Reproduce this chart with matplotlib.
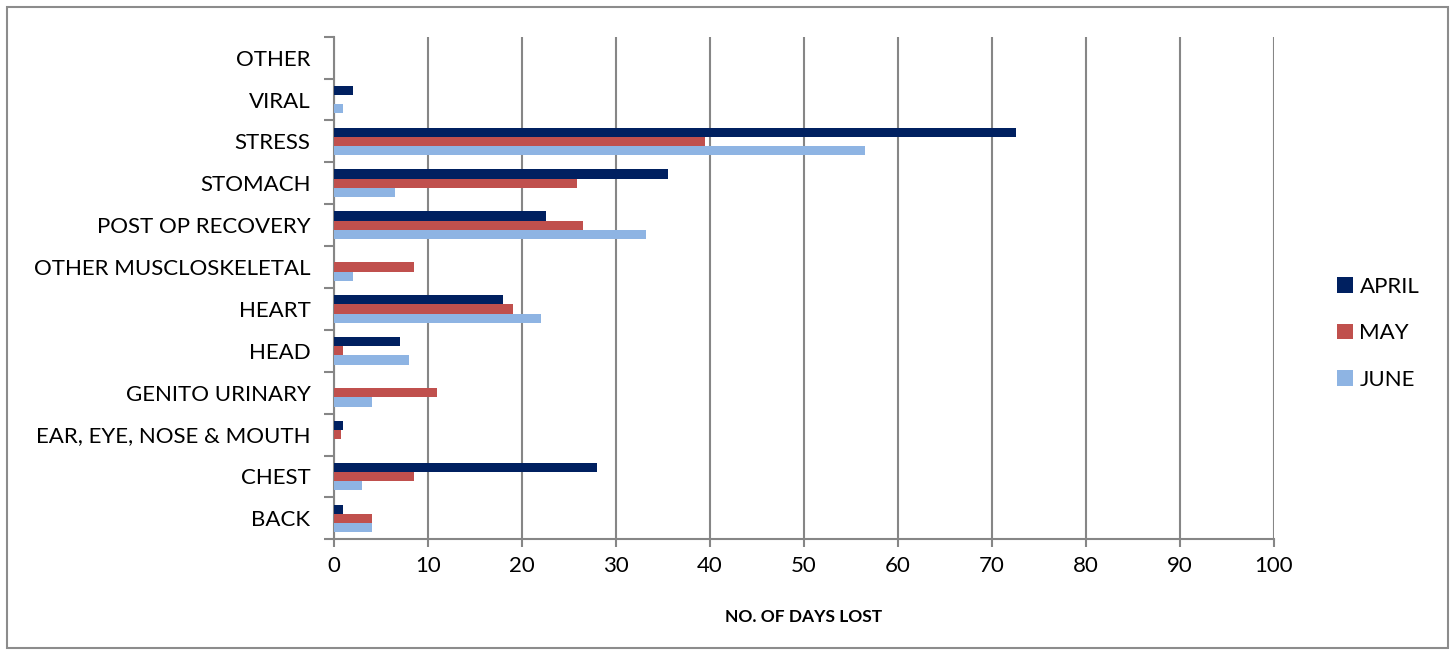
import matplotlib.pyplot as plt
import numpy as np
from matplotlib.patches import Rectangle

categories = ['BACK', 'CHEST', 'EAR, EYE, NOSE & MOUTH', 'GENITO URINARY', 'HEAD',
              'HEART', 'OTHER MUSCLOSKELETAL', 'POST OP RECOVERY', 'STOMACH',
              'STRESS', 'VIRAL', 'OTHER']
april = [1, 28, 1, 0, 7, 18, 0, 22.5, 35.5, 72.5, 2, 0]
may = [4, 8.5, 0.75, 11, 1, 19, 8.5, 26.5, 25.8, 39.5, 0, 0]
june = [4, 3, 0, 4, 8, 22, 2, 33.2, 6.5, 56.5, 1, 0]
x_ticks = list(range(0, 101, 10))

plt.rcParams['font.family'] = ['Lato', 'DejaVu Sans']

fig = plt.figure(figsize=(14.56, 6.52), dpi=100)
fig.patches.append(Rectangle((7 / 1456, 4 / 652), 1441 / 1456, 641 / 652,
                             transform=fig.transFigure, fill=False,
                             edgecolor='#8c8c8c', linewidth=1.5))
ax = fig.add_axes([0.2294, 0.1729, 0.6456, 0.7708])

y = np.arange(len(categories))
h = 0.22
ax.barh(y + h, april, height=h, color='#002060', label='APRIL', zorder=3)
ax.barh(y, may, height=h, color='#C0504D', label='MAY', zorder=3)
ax.barh(y - h, june, height=h, color='#8EB4E3', label='JUNE', zorder=3)

ax.set_xlim(0, 100)
ax.set_ylim(-0.5, len(categories) - 0.5)
ax.set_xticks(x_ticks)
ax.set_yticks(y)
ax.set_yticklabels(categories)
ax.set_yticks(np.arange(-0.5, len(categories), 1), minor=True)
ax.tick_params(axis='y', which='major', length=0, pad=17, labelsize=16)
ax.tick_params(axis='y', which='minor', length=7, width=1.5, color='#868686')
ax.tick_params(axis='x', length=6, width=1.5, color='#868686', labelsize=16, pad=6)

ax.grid(axis='x', color='#868686', linewidth=1.5, zorder=0)
for s in ['top', 'right']:
    ax.spines[s].set_visible(False)
for s in ['left', 'bottom']:
    ax.spines[s].set_color('#868686')
    ax.spines[s].set_linewidth(1.5)

ax.set_xlabel('NO. OF DAYS LOST', fontsize=12.5, fontweight='bold', labelpad=24)

ax.legend(loc='center left', bbox_to_anchor=(1.046, 0.41), frameon=False,
          fontsize=16, handlelength=0.7, handleheight=0.7, handletextpad=0.3,
          labelspacing=1.2)

fig.savefig('out.png', dpi=100)
